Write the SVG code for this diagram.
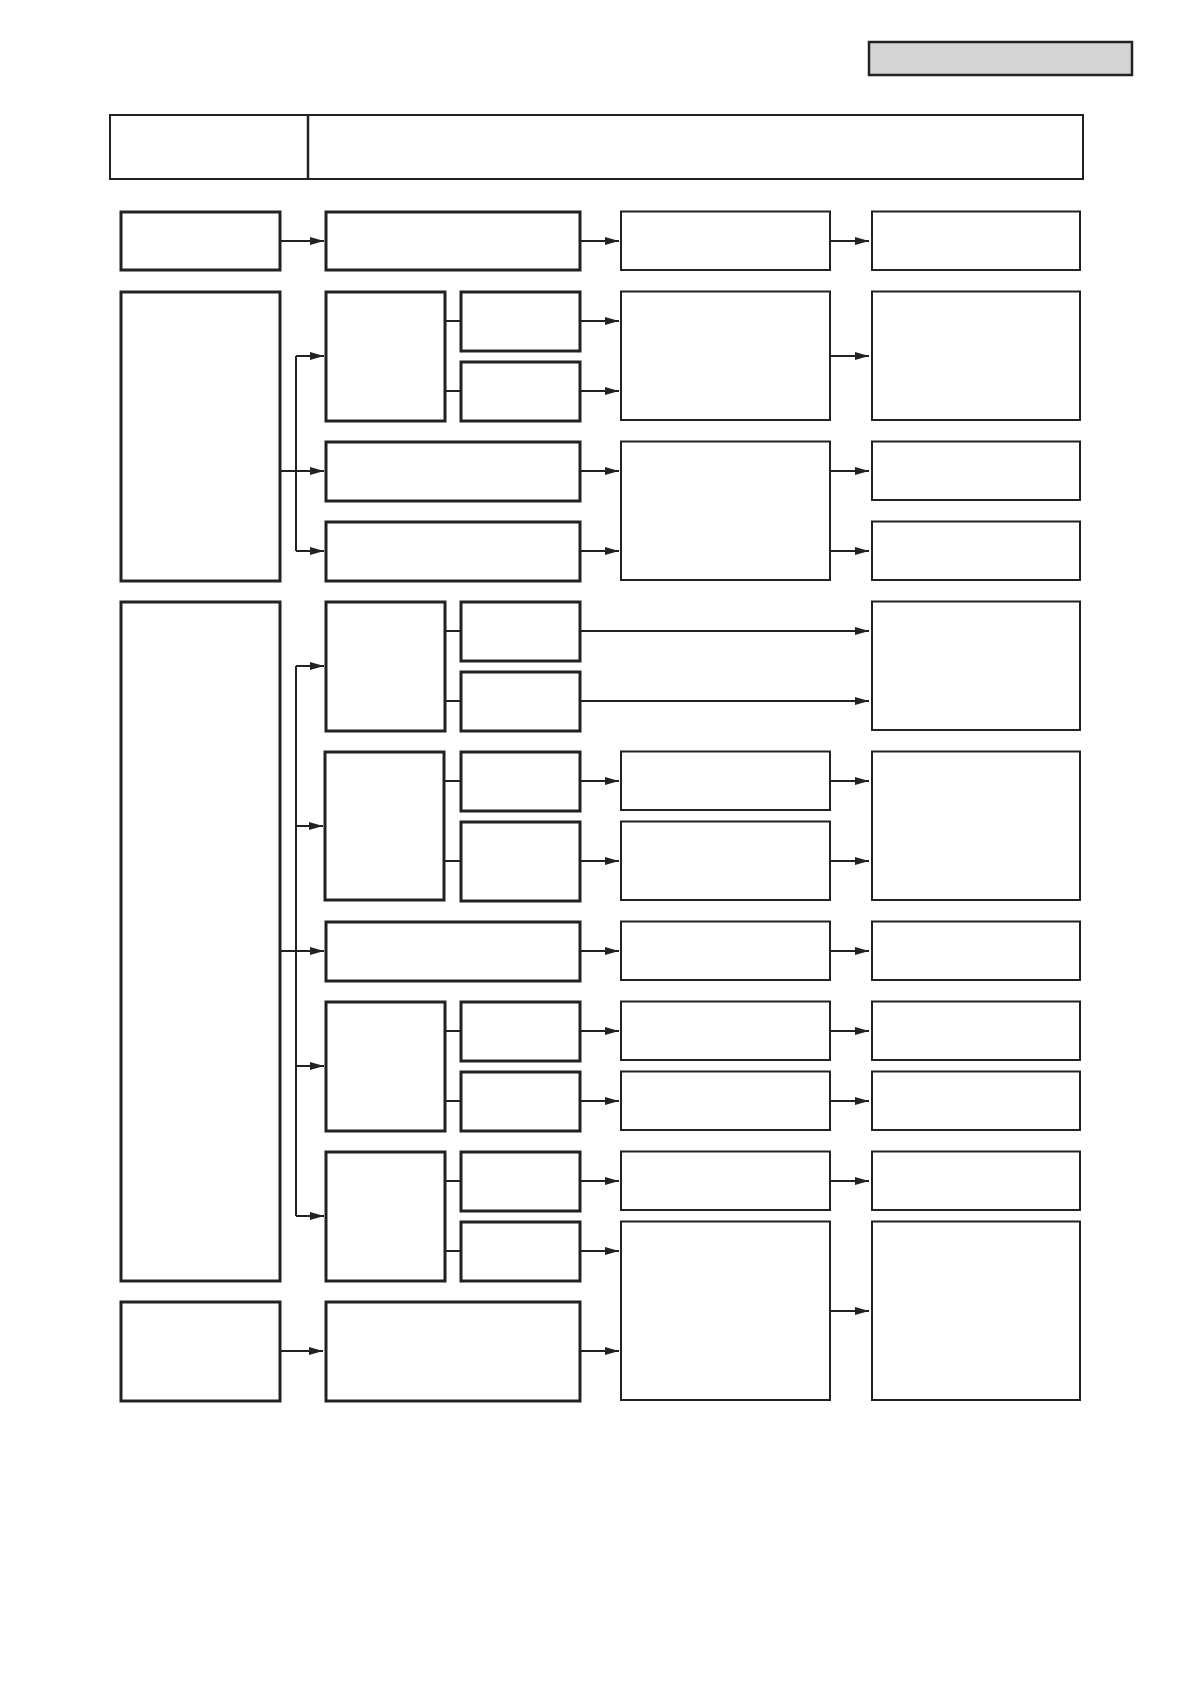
<svg xmlns="http://www.w3.org/2000/svg" width="1191" height="1684" viewBox="0 0 1191 1684">
<defs>
<style>
.t{fill:#fff;stroke:#222;stroke-width:3}
.n{fill:#fff;stroke:#222;stroke-width:2}
.h{fill:#fff;stroke:#222;stroke-width:2}
.g{fill:#d4d4d4;stroke:#222;stroke-width:2.5}
.c line,.c path{stroke:#222;stroke-width:2;fill:none}
.a{marker-end:url(#ar)}
</style>
<marker id="ar" markerUnits="userSpaceOnUse" markerWidth="15" markerHeight="9" refX="14" refY="4" orient="auto">
<path d="M0,0 L14,4 L0,8 z" fill="#222"/>
</marker>
</defs>
<rect width="1191" height="1684" fill="#fff"/>
<g id="tag"><rect class="g" x="869" y="42" width="263" height="33"/></g>
<g id="header"><rect class="h" x="110" y="115" width="973" height="64"/><line x1="308" y1="115" x2="308" y2="179" stroke="#222" stroke-width="2.5"/></g>

<g id="r1c1"><rect class="t" x="121" y="212" width="159" height="58"/></g>
<g id="r1c2"><rect class="t" x="326" y="212" width="254" height="58"/></g>
<g id="r1c3"><rect class="n" x="621" y="211.5" width="209" height="58.5"/></g>
<g id="r1c4"><rect class="n" x="872" y="211.5" width="208" height="58.5"/></g>

<g id="r2c1"><rect class="t" x="121" y="292" width="159" height="289"/></g>
<g id="g1a"><rect class="t" x="326" y="292" width="119" height="129"/></g>
<g id="g1s1"><rect class="t" x="461" y="292" width="119" height="59"/></g>
<g id="g1s2"><rect class="t" x="461" y="362" width="119" height="59"/></g>
<g id="g1c3"><rect class="n" x="621" y="291.5" width="209" height="128.5"/></g>
<g id="g1c4"><rect class="n" x="872" y="291.5" width="208" height="128.5"/></g>
<g id="w2"><rect class="t" x="326" y="442" width="254" height="59"/></g>
<g id="w3"><rect class="t" x="326" y="522" width="254" height="59"/></g>
<g id="w23c3"><rect class="n" x="621" y="441.5" width="209" height="138.5"/></g>
<g id="w2c4"><rect class="n" x="872" y="441.5" width="208" height="58.5"/></g>
<g id="w3c4"><rect class="n" x="872" y="521.5" width="208" height="58.5"/></g>

<g id="r3c1"><rect class="t" x="121" y="602" width="159" height="679"/></g>
<g id="gAa"><rect class="t" x="326" y="602" width="119" height="129"/></g>
<g id="gAs1"><rect class="t" x="461" y="602" width="119" height="59"/></g>
<g id="gAs2"><rect class="t" x="461" y="672" width="119" height="59"/></g>
<g id="gAc4"><rect class="n" x="872" y="601.5" width="208" height="128.5"/></g>

<g id="gBa"><rect class="t" x="325" y="752" width="119" height="148"/></g>
<g id="gBs1"><rect class="t" x="461" y="752" width="119" height="59"/></g>
<g id="gBs2"><rect class="t" x="461" y="822" width="119" height="79"/></g>
<g id="gBc3a"><rect class="n" x="621" y="751.5" width="209" height="58.5"/></g>
<g id="gBc3b"><rect class="n" x="621" y="821.5" width="209" height="78.5"/></g>
<g id="gBc4"><rect class="n" x="872" y="751.5" width="208" height="148.5"/></g>

<g id="wC"><rect class="t" x="326" y="922" width="254" height="59"/></g>
<g id="wCc3"><rect class="n" x="621" y="921.5" width="209" height="58.5"/></g>
<g id="wCc4"><rect class="n" x="872" y="921.5" width="208" height="58.5"/></g>

<g id="gCa"><rect class="t" x="326" y="1002" width="119" height="129"/></g>
<g id="gCs1"><rect class="t" x="461" y="1002" width="119" height="59"/></g>
<g id="gCs2"><rect class="t" x="461" y="1072" width="119" height="59"/></g>
<g id="gCc3a"><rect class="n" x="621" y="1001.5" width="209" height="58.5"/></g>
<g id="gCc3b"><rect class="n" x="621" y="1071.5" width="209" height="58.5"/></g>
<g id="gCc4a"><rect class="n" x="872" y="1001.5" width="208" height="58.5"/></g>
<g id="gCc4b"><rect class="n" x="872" y="1071.5" width="208" height="58.5"/></g>

<g id="gDa"><rect class="t" x="326" y="1152" width="119" height="129"/></g>
<g id="gDs1"><rect class="t" x="461" y="1152" width="119" height="59"/></g>
<g id="gDs2"><rect class="t" x="461" y="1222" width="119" height="59"/></g>
<g id="gDc3a"><rect class="n" x="621" y="1151.5" width="209" height="58.5"/></g>
<g id="gDc3b"><rect class="n" x="621" y="1221.5" width="209" height="178.5"/></g>
<g id="gDc4a"><rect class="n" x="872" y="1151.5" width="208" height="58.5"/></g>
<g id="gDc4b"><rect class="n" x="872" y="1221.5" width="208" height="178.5"/></g>

<g id="r4c1"><rect class="t" x="121" y="1302" width="159" height="99"/></g>
<g id="r4c2"><rect class="t" x="326" y="1302" width="254" height="99"/></g>

<g id="connectors" class="c">
<line class="a" x1="281" y1="241" x2="324" y2="241"/>
<line class="a" x1="581" y1="241" x2="619" y2="241"/>
<line class="a" x1="831" y1="241" x2="869" y2="241"/>

<line x1="281" y1="471" x2="296" y2="471"/>
<line x1="296" y1="356" x2="296" y2="551"/>
<line class="a" x1="296" y1="356" x2="324" y2="356"/>
<line class="a" x1="296" y1="471" x2="324" y2="471"/>
<line class="a" x1="296" y1="551" x2="324" y2="551"/>
<line x1="445" y1="321" x2="461" y2="321"/>
<line x1="445" y1="391" x2="461" y2="391"/>
<line class="a" x1="581" y1="321" x2="619" y2="321"/>
<line class="a" x1="581" y1="391" x2="619" y2="391"/>
<line class="a" x1="831" y1="356" x2="869" y2="356"/>
<line class="a" x1="581" y1="471" x2="619" y2="471"/>
<line class="a" x1="581" y1="551" x2="619" y2="551"/>
<line class="a" x1="831" y1="471" x2="869" y2="471"/>
<line class="a" x1="831" y1="551" x2="869" y2="551"/>

<line x1="281" y1="951" x2="296" y2="951"/>
<line x1="296" y1="666" x2="296" y2="1216"/>
<line class="a" x1="296" y1="666" x2="324" y2="666"/>
<line class="a" x1="296" y1="826" x2="323" y2="826"/>
<line class="a" x1="296" y1="951" x2="324" y2="951"/>
<line class="a" x1="296" y1="1066" x2="324" y2="1066"/>
<line class="a" x1="296" y1="1216" x2="324" y2="1216"/>

<line x1="445" y1="631" x2="461" y2="631"/>
<line x1="445" y1="701" x2="461" y2="701"/>
<line class="a" x1="581" y1="631" x2="869" y2="631"/>
<line class="a" x1="581" y1="701" x2="869" y2="701"/>

<line x1="444" y1="781" x2="461" y2="781"/>
<line x1="444" y1="861" x2="461" y2="861"/>
<line class="a" x1="581" y1="781" x2="619" y2="781"/>
<line class="a" x1="581" y1="861" x2="619" y2="861"/>
<line class="a" x1="831" y1="781" x2="869" y2="781"/>
<line class="a" x1="831" y1="861" x2="869" y2="861"/>

<line class="a" x1="581" y1="951" x2="619" y2="951"/>
<line class="a" x1="831" y1="951" x2="869" y2="951"/>

<line x1="445" y1="1031" x2="461" y2="1031"/>
<line x1="445" y1="1101" x2="461" y2="1101"/>
<line class="a" x1="581" y1="1031" x2="619" y2="1031"/>
<line class="a" x1="581" y1="1101" x2="619" y2="1101"/>
<line class="a" x1="831" y1="1031" x2="869" y2="1031"/>
<line class="a" x1="831" y1="1101" x2="869" y2="1101"/>

<line x1="445" y1="1181" x2="461" y2="1181"/>
<line x1="445" y1="1251" x2="461" y2="1251"/>
<line class="a" x1="581" y1="1181" x2="619" y2="1181"/>
<line class="a" x1="581" y1="1251" x2="619" y2="1251"/>
<line class="a" x1="831" y1="1181" x2="869" y2="1181"/>
<line class="a" x1="831" y1="1311" x2="869" y2="1311"/>

<line class="a" x1="281" y1="1351" x2="323" y2="1351"/>
<line class="a" x1="581" y1="1351" x2="619" y2="1351"/>
</g>
</svg>
